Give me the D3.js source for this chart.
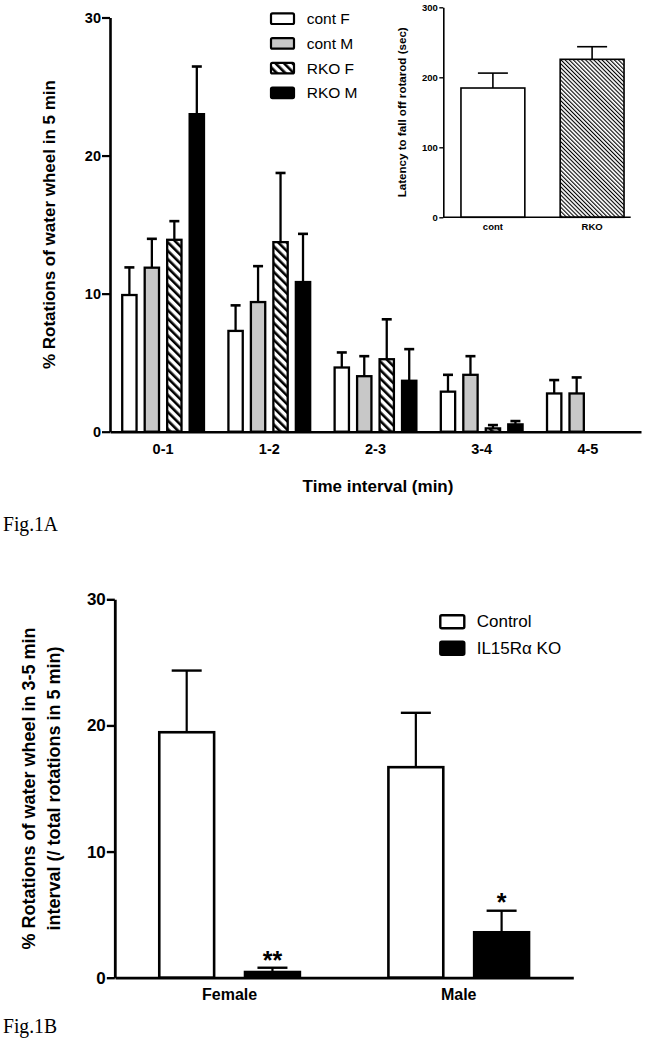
<!DOCTYPE html>
<html><head><meta charset="utf-8">
<script src="https://cdn.jsdelivr.net/npm/d3@7"></script>
<style>
html,body{margin:0;padding:0;background:#fff;}
text{font-family:"Liberation Sans",Arial,sans-serif;fill:#000;}
</style></head>
<body>
<svg id="chart" width="659" height="1050"></svg>
<script>
// ---------- DATA ----------
// Fig 1A main
const intervals = ["0-1","1-2","2-3","3-4","4-5"];
const seriesA = ["cont F","cont M","RKO F","RKO M"];
const contF    = [9.9, 7.3, 4.65, 2.9, 2.77];
const contFErr = [2.0, 1.85, 1.09, 1.22, 0.97];
const contM    = [11.88, 9.39, 4.02, 4.12, 2.77];
const contMErr = [2.09, 2.6, 1.45, 1.35, 1.16];
const rkoF     = [13.9, 13.73, 5.25, 0.24, null];
const rkoFErr  = [1.35, 5.01, 2.89, 0.24, null];
const rkoM     = [23.0, 10.84, 3.69, 0.53, null];
const rkoMErr  = [3.45, 3.49, 2.29, 0.24, null];
const ticksA = [0, 10, 20, 30];
// Fig 1A inset
const insetGroups = ["cont","RKO"];
const insetVals = [184.7, 225.7];
const insetErr  = [21.3, 18.0];
const ticksInset = [0, 100, 200, 300];
// Fig 1B
const sexes = ["Female","Male"];
const seriesB = ["Control","IL15R\u03b1 KO"];
const controlB    = [19.46, 16.69];
const controlBErr = [4.89, 4.31];
const koB         = [0.45, 3.6];
const koBErr      = [0.34, 1.71];
const koSig       = ["**","*"];
const ticksB = [0, 10, 20, 30];

// ---------- SETUP ----------
const svg = d3.select("#chart");
svg.append("rect").attr("width",659).attr("height",1050).attr("fill","#fff");
const defs = svg.append("defs");
function hatch(id, period, sw){
  const p = defs.append("pattern").attr("id",id).attr("patternUnits","userSpaceOnUse")
    .attr("width",period).attr("height",period).attr("patternTransform","rotate(-45)");
  p.append("rect").attr("width",period).attr("height",period).attr("fill","#fff");
  p.append("rect").attr("x",0).attr("width",sw).attr("height",period).attr("fill","#000");
}
hatch("hatchA", 6.0, 2.6);
hatch("hatchI", 2.9, 1.1);

const fillA = {"cont F":"#fff","cont M":"#c8c8c8","RKO F":"url(#hatchA)","RKO M":"#000"};
const valsA = {"cont F":contF,"cont M":contM,"RKO F":rkoF,"RKO M":rkoM};
const errsA = {"cont F":contFErr,"cont M":contMErr,"RKO F":rkoFErr,"RKO M":rkoMErr};

function styleAxis(g, sw, fs){
  g.selectAll("path.domain").attr("stroke","#000").attr("stroke-width",sw);
  g.selectAll(".tick line").attr("stroke","#000").attr("stroke-width",sw*0.85);
  g.selectAll("text").attr("font-family","'Liberation Sans',Arial,sans-serif")
    .attr("font-weight","bold").attr("font-size",fs).attr("fill","#000");
}

// ---------- FIG 1A MAIN ----------
const yA = d3.scaleLinear().domain([0,30]).range([431.7, 17.5]);
const xA0 = d3.scaleBand().domain(intervals).range([110, 641]).paddingInner(0.2).paddingOuter(0.1);
const xA1 = d3.scaleBand().domain(seriesA).range([0, xA0.bandwidth()]).paddingInner(0.26).paddingOuter(0.02);
const swA = 2.3;
const barsA = [];
intervals.forEach((iv,i)=>seriesA.forEach(s=>{
  if(valsA[s][i]!==null) barsA.push({iv, s, v:valsA[s][i], e:errsA[s][i]});
}));
const gA = svg.append("g");
gA.selectAll("rect.bar").data(barsA).join("rect").attr("class","bar")
  .attr("x", d=>xA0(d.iv)+xA1(d.s)+swA/2)
  .attr("width", xA1.bandwidth()-swA)
  .attr("y", d=>yA(d.v))
  .attr("height", d=>yA(0)-yA(d.v))
  .attr("fill", d=>fillA[d.s]).attr("stroke","#000").attr("stroke-width",swA);
const errA = gA.selectAll("g.err").data(barsA).join("g").attr("class","err");
errA.append("line").attr("x1",d=>xA0(d.iv)+xA1(d.s)+xA1.bandwidth()/2).attr("x2",d=>xA0(d.iv)+xA1(d.s)+xA1.bandwidth()/2)
  .attr("y1",d=>yA(d.v)).attr("y2",d=>yA(d.v+d.e)).attr("stroke","#000").attr("stroke-width",2.3);
errA.append("line").attr("x1",d=>xA0(d.iv)+xA1(d.s)+xA1.bandwidth()/2-5).attr("x2",d=>xA0(d.iv)+xA1(d.s)+xA1.bandwidth()/2+5)
  .attr("y1",d=>yA(d.v+d.e)).attr("y2",d=>yA(d.v+d.e)).attr("stroke","#000").attr("stroke-width",2.6);

const axA = svg.append("g").attr("transform","translate(110,0)")
  .call(d3.axisLeft(yA).tickValues(ticksA).tickSize(8).tickSizeOuter(0).tickPadding(1));
styleAxis(axA, 2.6, 14.5);
const axAx = svg.append("g").attr("transform",`translate(0,${yA(0)})`)
  .call(d3.axisBottom(xA0).tickSize(0).tickSizeOuter(0).tickPadding(11.7));
styleAxis(axAx, 2.6, 14.5);

svg.append("text").attr("transform",`translate(49,${(yA(0)+yA(30))/2}) rotate(-90)`)
  .attr("text-anchor","middle").attr("dominant-baseline","central")
  .attr("font-weight","bold").attr("font-size",17).text("% Rotations of water wheel in 5 min");
svg.append("text").attr("x",378).attr("y",492).attr("text-anchor","middle")
  .attr("font-weight","bold").attr("font-size",17).text("Time interval (min)");

// legend A
const legA = svg.append("g").selectAll("g").data(seriesA).join("g")
  .attr("transform",(d,i)=>`translate(270,${18.7+i*24.7})`);
legA.append("rect").attr("x",1).attr("y",-5.3).attr("width",23).attr("height",10.6).attr("rx",1.5)
  .attr("fill",d=>fillA[d]).attr("stroke","#000").attr("stroke-width",2.2);
legA.append("text").attr("x",36.7).attr("dominant-baseline","central").attr("font-size",15.5).text(d=>d);

// ---------- FIG 1A INSET ----------
const yI = d3.scaleLinear().domain([0,300]).range([217.3, 7.3]);
const xI = d3.scaleBand().domain(insetGroups).range([443.3, 641.7]).paddingInner(0.34).paddingOuter(0.17);
const fillI = ["#fff","url(#hatchI)"];
const swI = 1.6;
const insetData = insetGroups.map((g,i)=>({g, v:insetVals[i], e:insetErr[i], f:fillI[i]}));
const gI = svg.append("g");
gI.selectAll("rect").data(insetData).join("rect")
  .attr("x",d=>xI(d.g)+swI/2).attr("width",xI.bandwidth()-swI)
  .attr("y",d=>yI(d.v)).attr("height",d=>yI(0)-yI(d.v))
  .attr("fill",d=>d.f).attr("stroke","#000").attr("stroke-width",swI);
gI.selectAll("line.v").data(insetData).join("line").attr("class","v")
  .attr("x1",d=>xI(d.g)+xI.bandwidth()/2).attr("x2",d=>xI(d.g)+xI.bandwidth()/2)
  .attr("y1",d=>yI(d.v)).attr("y2",d=>yI(d.v+d.e)).attr("stroke","#000").attr("stroke-width",1.6);
gI.selectAll("line.c").data(insetData).join("line").attr("class","c")
  .attr("x1",d=>xI(d.g)+xI.bandwidth()/2-15).attr("x2",d=>xI(d.g)+xI.bandwidth()/2+15)
  .attr("y1",d=>yI(d.v+d.e)).attr("y2",d=>yI(d.v+d.e)).attr("stroke","#000").attr("stroke-width",1.6);
const axI = svg.append("g").attr("transform","translate(443.3,0)")
  .call(d3.axisLeft(yI).tickValues(ticksInset).tickSize(4).tickSizeOuter(0).tickPadding(1.5));
styleAxis(axI, 1.6, 9.5);
const axIx = svg.append("g").attr("transform",`translate(0,${yI(0)})`)
  .call(d3.axisBottom(xI).tickSize(0).tickSizeOuter(0).tickPadding(6));
styleAxis(axIx, 1.6, 9.5);
axIx.select("path.domain").remove();
axIx.append("line").attr("x1",xI.range()[0]).attr("x2",xI.range()[0]+187.4)
  .attr("stroke","#000").attr("stroke-width",1.6);
svg.append("text").attr("transform",`translate(401.7,${(yI(0)+yI(300))/2}) rotate(-90)`)
  .attr("text-anchor","middle").attr("dominant-baseline","central")
  .attr("font-weight","bold").attr("font-size",11.6).text("Latency to fall off rotarod (sec)");

// Fig label
svg.append("text").attr("x",3).attr("y",531).attr("font-family","'Liberation Serif','Times New Roman',serif")
  .style("font-family","'Liberation Serif','Times New Roman',serif")
  .attr("font-size",22).attr("textLength",55).attr("lengthAdjust","spacingAndGlyphs").text("Fig.1A");

// ---------- FIG 1B ----------
const yB = d3.scaleLinear().domain([0,30]).range([977.7, 599.3]);
const xB0 = d3.scaleBand().domain(sexes).range([115, 573.3]).paddingInner(0.375).paddingOuter(0.1875);
const xB1 = d3.scaleBand().domain(seriesB).range([0, xB0.bandwidth()]).paddingInner(0.33).paddingOuter(0);
const fillB = {"Control":"#fff"}; fillB[seriesB[1]] = "#000";
const swB = 2.6;
const barsB = [];
sexes.forEach((sx,i)=>{
  barsB.push({sx, s:seriesB[0], v:controlB[i], e:controlBErr[i], sig:""});
  barsB.push({sx, s:seriesB[1], v:koB[i], e:koBErr[i], sig:koSig[i]});
});
const gB = svg.append("g");
gB.selectAll("rect").data(barsB).join("rect")
  .attr("x",d=>xB0(d.sx)+xB1(d.s)+swB/2).attr("width",xB1.bandwidth()-swB)
  .attr("y",d=>yB(d.v)).attr("height",d=>yB(0)-yB(d.v))
  .attr("fill",d=>fillB[d.s]).attr("stroke","#000").attr("stroke-width",swB);
const cxB = d=>xB0(d.sx)+xB1(d.s)+xB1.bandwidth()/2;
gB.selectAll("line.v").data(barsB).join("line").attr("class","v")
  .attr("x1",cxB).attr("x2",cxB).attr("y1",d=>yB(d.v)).attr("y2",d=>yB(d.v+d.e))
  .attr("stroke","#000").attr("stroke-width",2.2);
gB.selectAll("line.c").data(barsB).join("line").attr("class","c")
  .attr("x1",d=>cxB(d)-15).attr("x2",d=>cxB(d)+15).attr("y1",d=>yB(d.v+d.e)).attr("y2",d=>yB(d.v+d.e))
  .attr("stroke","#000").attr("stroke-width",2.4);
gB.selectAll("text.sig").data(barsB.filter(d=>d.sig)).join("text").attr("class","sig")
  .attr("x",cxB).attr("y",d=>yB(d.v+d.e)+(d.sig.length>1?1.5:0)).attr("text-anchor","middle")
  .attr("font-weight","bold").attr("font-size",25).text(d=>d.sig);

const axB = svg.append("g").attr("transform","translate(114.8,0)")
  .call(d3.axisLeft(yB).tickValues(ticksB).tickSize(8).tickSizeOuter(0).tickPadding(1));
styleAxis(axB, 2.8, 17);
const axBx = svg.append("g").attr("transform",`translate(0,${yB(0)})`)
  .call(d3.axisBottom(xB0).tickSize(0).tickSizeOuter(0).tickPadding(11));
styleAxis(axBx, 2.8, 16);

const ylB = svg.append("text").attr("transform",`translate(0,${(yB(0)+yB(30))/2}) rotate(-90)`)
  .attr("text-anchor","middle").attr("font-weight","bold").attr("font-size",18);
ylB.append("tspan").attr("x",0).attr("y",34.5).text("% Rotations of water wheel in 3-5 min");
ylB.append("tspan").attr("x",0).attr("y",59.5).text("interval (/ total rotations in 5 min)");

const legB = svg.append("g").selectAll("g").data(seriesB).join("g")
  .attr("transform",(d,i)=>`translate(439.3,${621.7+i*26.5})`);
legB.append("rect").attr("x",1).attr("y",-6.5).attr("width",24).attr("height",13).attr("rx",1.5)
  .attr("fill",d=>fillB[d]).attr("stroke","#000").attr("stroke-width",2.4);
legB.append("text").attr("x",37.4).attr("dominant-baseline","central").attr("font-size",17).text(d=>d);

svg.append("text").attr("x",3).attr("y",1033)
  .style("font-family","'Liberation Serif','Times New Roman',serif")
  .attr("font-size",22).attr("textLength",54).attr("lengthAdjust","spacingAndGlyphs").text("Fig.1B");
</script>
</body></html>
